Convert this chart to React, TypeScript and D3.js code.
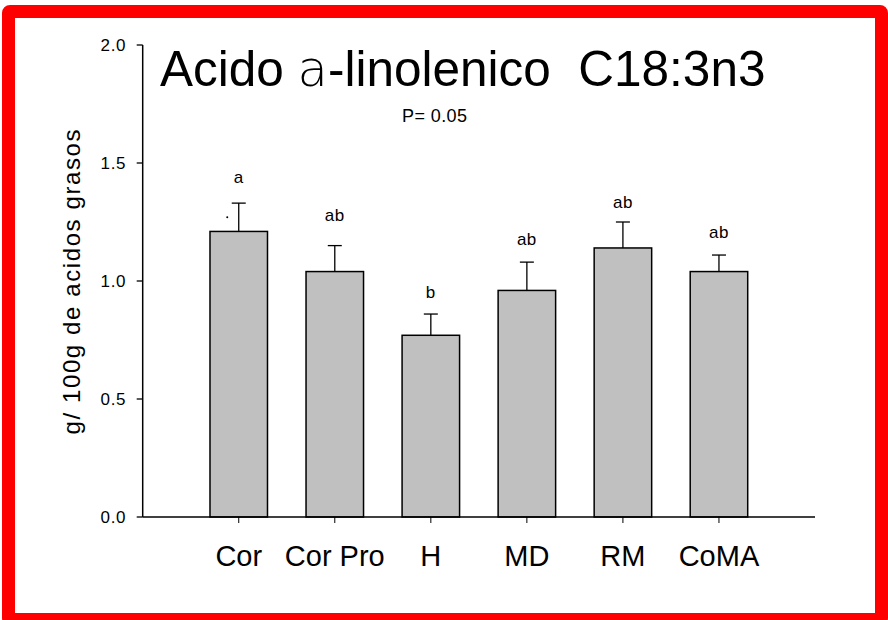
import * as d3 from "d3";
import React, {useEffect, useRef} from "react";

// datos
const categories = ["Cor", "Cor Pro", "H", "MD", "RM", "CoMA"];
const means = [1.21, 1.04, 0.77, 0.96, 1.14, 1.04];
const errors = [0.12, 0.11, 0.09, 0.12, 0.11, 0.07];
const letters = ["a", "ab", "b", "ab", "ab", "ab"];
const letterAt = [1.415, 1.254, 0.928, 1.153, 1.309, 1.182];
const yTicks = [0.0, 0.5, 1.0, 1.5, 2.0];

const W = 888;
const H = 620;
const FONT = "'Liberation Sans', Arial, Helvetica, sans-serif";

const App = () => {
    const svgRef = useRef(null);

    useEffect(() => {
        const svg = d3.select(svgRef.current);
        svg.selectAll("*").remove();

        svg.append("rect").attr("width", W).attr("height", H).attr("fill", "white");

        // marco rojo
        svg.append("rect")
            .attr("x", 8.5).attr("y", 11.5)
            .attr("width", 873).attr("height", 608)
            .attr("rx", 1.5)
            .attr("fill", "none")
            .attr("stroke", "#ff0000")
            .attr("stroke-width", 13);

        const x0 = 142.7, x1 = 815;
        const xScale = d3.scaleLinear().domain([0, categories.length + 1]).range([x0, x1]);
        const yScale = d3.scaleLinear().domain([0, 2]).range([517, 45]);
        const barW = 57.5;

        const g = svg.append("g").attr("font-family", FONT);

        // barras
        g.selectAll(".bar")
            .data(means)
            .enter()
            .append("rect")
            .attr("x", (d, i) => xScale(i + 1) - barW / 2)
            .attr("y", d => yScale(d))
            .attr("width", barW)
            .attr("height", d => yScale(0) - yScale(d))
            .attr("fill", "#c0c0c0")
            .attr("stroke", "black")
            .attr("stroke-width", 1.5);

        // barras de error
        const err = g.selectAll(".err").data(means).enter().append("g");
        err.append("line")
            .attr("x1", (d, i) => xScale(i + 1)).attr("x2", (d, i) => xScale(i + 1))
            .attr("y1", d => yScale(d)).attr("y2", (d, i) => yScale(d + errors[i]))
            .attr("stroke", "black").attr("stroke-width", 1.3);
        err.append("line")
            .attr("x1", (d, i) => xScale(i + 1) - 7).attr("x2", (d, i) => xScale(i + 1) + 7)
            .attr("y1", (d, i) => yScale(d + errors[i])).attr("y2", (d, i) => yScale(d + errors[i]))
            .attr("stroke", "black").attr("stroke-width", 1.3);

        // letras
        g.selectAll(".letter")
            .data(letters)
            .enter()
            .append("text")
            .attr("x", (d, i) => xScale(i + 1))
            .attr("y", (d, i) => yScale(letterAt[i]))
            .attr("text-anchor", "middle")
            .attr("font-size", 17)
            .attr("letter-spacing", 0.5)
            .text(d => d);

        g.append("circle")
            .attr("cx", xScale(1) - 11.5).attr("cy", yScale(1.27))
            .attr("r", 1).attr("fill", "black");

        // eje Y
        g.append("line")
            .attr("x1", x0).attr("x2", x0)
            .attr("y1", yScale(2)).attr("y2", yScale(0))
            .attr("stroke", "black").attr("stroke-width", 1.5);
        const yt = g.selectAll(".ytick").data(yTicks).enter().append("g");
        yt.append("line")
            .attr("x1", x0 - 6).attr("x2", x0)
            .attr("y1", d => yScale(d)).attr("y2", d => yScale(d))
            .attr("stroke", "black").attr("stroke-width", 1.3);
        yt.append("text")
            .attr("x", 100.5)
            .attr("y", d => yScale(d) + 6)
            .attr("font-size", 17)
            .attr("textLength", 25)
            .attr("lengthAdjust", "spacing")
            .text(d => d.toFixed(1));

        // eje X
        g.append("line")
            .attr("x1", x0).attr("x2", x1)
            .attr("y1", yScale(0)).attr("y2", yScale(0))
            .attr("stroke", "black").attr("stroke-width", 1.5);
        const xt = g.selectAll(".xtick").data(categories).enter().append("g");
        xt.append("line")
            .attr("x1", (d, i) => xScale(i + 1)).attr("x2", (d, i) => xScale(i + 1))
            .attr("y1", yScale(0)).attr("y2", yScale(0) + 6)
            .attr("stroke", "black").attr("stroke-width", 1);
        xt.append("text")
            .attr("x", (d, i) => xScale(i + 1))
            .attr("y", 566)
            .attr("text-anchor", "middle")
            .attr("font-size", 29)
            .text(d => d);

        // titulo eje Y
        g.append("text")
            .attr("transform", "translate(80,282) rotate(-90)")
            .attr("text-anchor", "middle")
            .attr("font-size", 24)
            .attr("textLength", 305)
            .attr("lengthAdjust", "spacing")
            .text("g/ 100g de acidos grasos");

        // titulo
        const title = g.append("text")
            .attr("x", 160).attr("y", 86)
            .attr("font-size", 49.5)
            .style("white-space", "pre");
        title.append("tspan").text("Acido ");
        title.append("tspan")
            .attr("font-family", "'DejaVu Sans', sans-serif")
            .attr("font-weight", 200)
            .text("a");
        title.append("tspan").text("-linolenico  C18:3n3");

        g.append("text")
            .attr("x", 402).attr("y", 122)
            .attr("font-size", 18)
            .attr("textLength", 65)
            .attr("lengthAdjust", "spacing")
            .text("P= 0.05");
    }, []);

    return (
        <svg ref={svgRef} width={W} height={H}
             style={{position: "fixed", left: 0, top: 0, display: "block"}}/>
    );
};

export default App;
